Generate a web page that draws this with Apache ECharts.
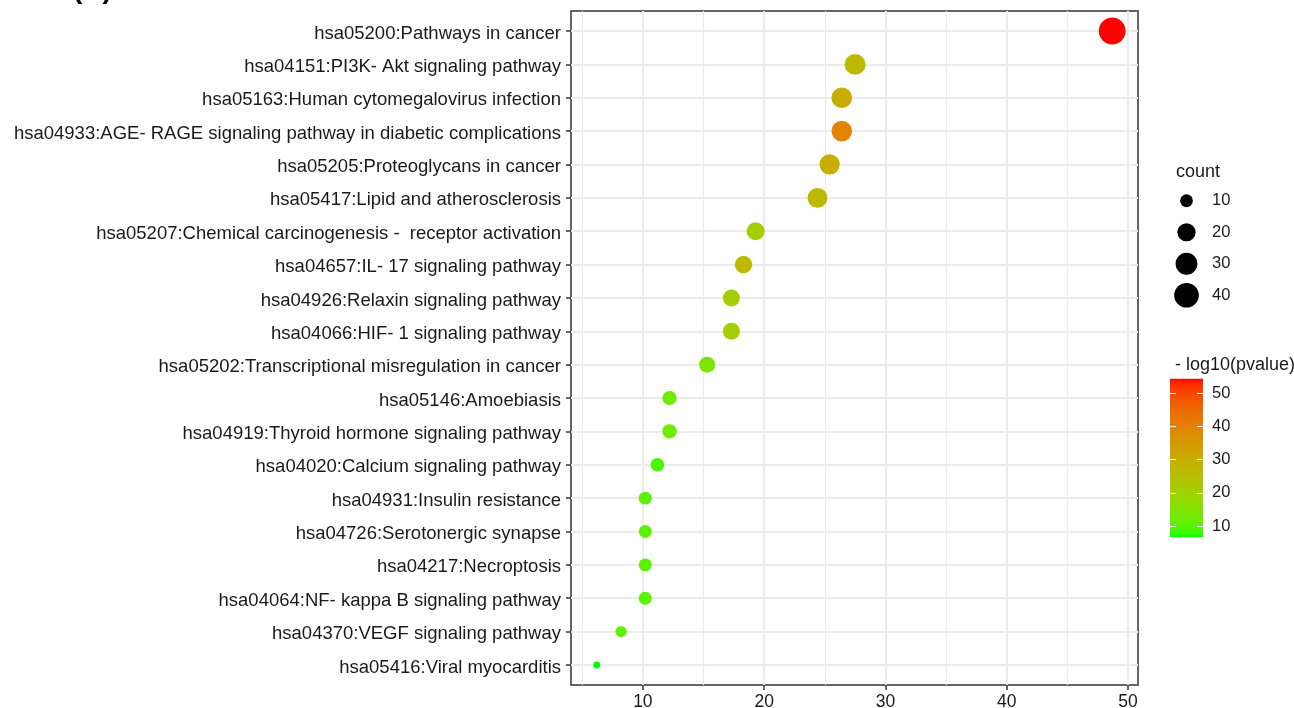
<!DOCTYPE html>
<html>
<head>
<meta charset="utf-8">
<script src="https://cdn.jsdelivr.net/npm/echarts@6/dist/echarts.min.js"></script>
<style>
html,body{margin:0;padding:0;background:#fff;}
#chart{width:1294px;height:708px;}
</style>
</head>
<body>
<div id="chart"></div>
<script>
// ---- data (top to bottom) ----
const pathways = [
  "hsa05200:Pathways in cancer",
  "hsa04151:PI3K- Akt signaling pathway",
  "hsa05163:Human cytomegalovirus infection",
  "hsa04933:AGE- RAGE signaling pathway in diabetic complications",
  "hsa05205:Proteoglycans in cancer",
  "hsa05417:Lipid and atherosclerosis",
  "hsa05207:Chemical carcinogenesis -  receptor activation",
  "hsa04657:IL- 17 signaling pathway",
  "hsa04926:Relaxin signaling pathway",
  "hsa04066:HIF- 1 signaling pathway",
  "hsa05202:Transcriptional misregulation in cancer",
  "hsa05146:Amoebiasis",
  "hsa04919:Thyroid hormone signaling pathway",
  "hsa04020:Calcium signaling pathway",
  "hsa04931:Insulin resistance",
  "hsa04726:Serotonergic synapse",
  "hsa04217:Necroptosis",
  "hsa04064:NF- kappa B signaling pathway",
  "hsa04370:VEGF signaling pathway",
  "hsa05416:Viral myocarditis"
];
const counts = [48.7, 27.5, 26.4, 26.4, 25.4, 24.4, 19.3, 18.3, 17.3, 17.3, 15.3, 12.2, 12.2, 11.2, 10.2, 10.2, 10.2, 10.2, 8.2, 6.2];
const negLog10P = [54.4, 27.2, 30.3, 39.6, 29.5, 27.0, 21.0, 26.7, 21.4, 21.2, 14.1, 12.1, 12.2, 9.0, 10.2, 10.2, 10.4, 10.3, 10.5, 6.6];
const xTicks = [10, 20, 30, 40, 50];
const xMinorTicks = [5, 15, 25, 35, 45];
const countBreaks = [10, 20, 30, 40];
const pBreaks = [10, 20, 30, 40, 50];

// ---- helpers: Lab interpolation like ggplot's scale_colour_gradient ----
function srgb2lin(c){c/=255;return c<=0.04045?c/12.92:Math.pow((c+0.055)/1.055,2.4);}
function lin2srgb(c){c=Math.max(0,Math.min(1,c));const v=c<=0.0031308?12.92*c:1.055*Math.pow(c,1/2.4)-0.055;return Math.round(v*255);}
function rgb2lab(rgb){
  const r=srgb2lin(rgb[0]),g=srgb2lin(rgb[1]),b=srgb2lin(rgb[2]);
  let X=(0.4124*r+0.3576*g+0.1805*b)/0.95047,Y=(0.2126*r+0.7152*g+0.0722*b),Z=(0.0193*r+0.1192*g+0.9505*b)/1.08883;
  const f=t=>t>0.008856?Math.cbrt(t):7.787*t+16/116;
  const fx=f(X),fy=f(Y),fz=f(Z);
  return [116*fy-16,500*(fx-fy),200*(fy-fz)];
}
function lab2rgb(lab){
  const fy=(lab[0]+16)/116,fx=fy+lab[1]/500,fz=fy-lab[2]/200;
  const inv=t=>t*t*t>0.008856?t*t*t:(t-16/116)/7.787;
  const X=inv(fx)*0.95047,Y=inv(fy),Z=inv(fz)*1.08883;
  const r=3.2406*X-1.5372*Y-0.4986*Z,g=-0.9689*X+1.8758*Y+0.0415*Z,b=0.0557*X-0.2040*Y+1.0570*Z;
  return 'rgb('+lin2srgb(r)+','+lin2srgb(g)+','+lin2srgb(b)+')';
}
const labLow=rgb2lab([0,255,0]),labHigh=rgb2lab([255,0,0]);
function gradColor(t){return lab2rgb([0,1,2].map(i=>labLow[i]+(labHigh[i]-labLow[i])*t));}
const NSTOP=40;
const colorStops=[];for(let i=0;i<=NSTOP;i++)colorStops.push(gradColor(i/NSTOP));

// ---- scales ----
const cMin=Math.min(...counts),cMax=Math.max(...counts);
const xPad=(cMax-cMin)*0.05;
const pMin=Math.min(...negLog10P),pMax=Math.max(...negLog10P);
function dotSize(v){return 6.8+20*Math.sqrt(Math.max(0,(v-cMin)/(cMax-cMin)));}

const rowIdx=pathways.map((_,i)=>i);
const pointData=pathways.map((p,i)=>[counts[i],i,negLog10P[i]]);

const FONT='"Liberation Sans", Arial, sans-serif';
const TXT='#1a1a1a';

const chart=echarts.init(document.getElementById('chart'),null,{renderer:'canvas'});
chart.setOption({
  animation:false,
  backgroundColor:'#fff',
  textStyle:{fontFamily:FONT},
  title:[
    {text:'(B)',left:68,top:-29,textStyle:{fontFamily:FONT,fontSize:28,fontWeight:'bold',color:'#000'}},
    {text:'count',left:1171,top:158,textStyle:{fontFamily:FONT,fontSize:18,fontWeight:'normal',color:TXT}},
    {text:'- log10(pvalue)',left:1170,top:351,textStyle:{fontFamily:FONT,fontSize:18,fontWeight:'normal',color:TXT}}
  ],
  grid:[
    {left:571,top:11,width:567,height:674,show:true,borderColor:'#333',borderWidth:1.5,backgroundColor:'transparent',containLabel:false,outerBoundsMode:'none'},
    {left:1170,top:185,width:33,height:126,containLabel:false,outerBoundsMode:'none'},
    {left:1170,top:378.7,width:33,height:158.6,containLabel:false,outerBoundsMode:'none'}
  ],
  xAxis:[
    {type:'value',gridIndex:0,min:cMin-xPad,max:cMax+xPad,position:'bottom',
      axisLine:{show:false,onZero:false},
      axisTick:{show:true,customValues:xTicks,length:5,lineStyle:{color:'#333',width:1.5}},
      axisLabel:{customValues:xTicks,color:TXT,fontSize:17.5,margin:8,fontFamily:FONT},
      splitLine:{show:true,lineStyle:{color:'#EBEBEB',width:2}}},
    {type:'value',gridIndex:0,min:cMin-xPad,max:cMax+xPad,position:'bottom',
      axisLine:{show:false,onZero:false},
      axisTick:{show:false,customValues:xMinorTicks},
      axisLabel:{show:false,customValues:xMinorTicks},
      splitLine:{show:true,lineStyle:{color:'#EBEBEB',width:1.2}}},
    {type:'value',gridIndex:1,min:0,max:1,show:false},
    {type:'value',gridIndex:2,min:0,max:1,show:false}
  ],
  yAxis:[
    {type:'value',gridIndex:0,min:-0.6,max:pathways.length-1+0.6,inverse:true,position:'left',
      axisLine:{show:false,onZero:false},
      axisTick:{show:true,customValues:rowIdx,length:5,lineStyle:{color:'#333',width:1.5}},
      axisLabel:{customValues:rowIdx,color:TXT,fontSize:18.5,margin:10,fontFamily:FONT,
        formatter:v=>'{t|'+pathways[Math.round(v)]+'}',
        rich:{t:{fontSize:18.5,fontFamily:FONT,color:TXT,padding:[5,0,0,0]}}},
      splitLine:{show:true,lineStyle:{color:'#EBEBEB',width:2}}},
    {type:'category',gridIndex:1,data:countBreaks.map(String),inverse:true,position:'right',
      axisLine:{show:false,onZero:false},axisTick:{show:false},
      axisLabel:{color:TXT,fontSize:16.5,margin:9,fontFamily:FONT},splitLine:{show:false}},
    {type:'value',gridIndex:2,min:pMin,max:pMax,position:'right',z:10,
      axisLine:{show:false,onZero:false},
      axisTick:{show:true,inside:true,customValues:pBreaks,length:6,lineStyle:{color:'#fff',width:1}},
      axisLabel:{customValues:pBreaks,color:TXT,fontSize:16.5,margin:9,fontFamily:FONT},
      splitLine:{show:false}},
    {type:'value',gridIndex:2,min:pMin,max:pMax,position:'left',z:10,
      axisLine:{show:false,onZero:false},
      axisTick:{show:true,inside:true,customValues:pBreaks,length:6,lineStyle:{color:'#fff',width:1}},
      axisLabel:{show:false},
      splitLine:{show:false}}
  ],
  visualMap:[{type:'continuous',show:false,seriesIndex:0,dimension:2,min:pMin,max:pMax,inRange:{color:colorStops}}],
  series:[
    {type:'scatter',xAxisIndex:0,yAxisIndex:0,data:pointData,
      symbolSize:v=>dotSize(v[0]),itemStyle:{opacity:1},z:5},
    {type:'scatter',xAxisIndex:2,yAxisIndex:1,
      data:countBreaks.map((c,i)=>[0.5,String(c),c]),
      symbolSize:v=>dotSize(v[2]),itemStyle:{color:'#000',opacity:1}},
    {type:'custom',xAxisIndex:3,yAxisIndex:2,z:1,
      data:[[0,1,pMin,pMax]],
      encode:{x:[0,1],y:[2,3]},
      renderItem:function(params,api){
        const p0=api.coord([api.value(0),api.value(3)]);
        const p1=api.coord([api.value(1),api.value(2)]);
        const stops=colorStops.map((c,i)=>({offset:1-i/NSTOP,color:c})).reverse();
        return {type:'rect',shape:{x:p0[0],y:p0[1],width:p1[0]-p0[0],height:p1[1]-p0[1]},
          style:{fill:new echarts.graphic.LinearGradient(0,0,0,1,stops)}};
      }}
  ]
});
</script>
</body>
</html>
